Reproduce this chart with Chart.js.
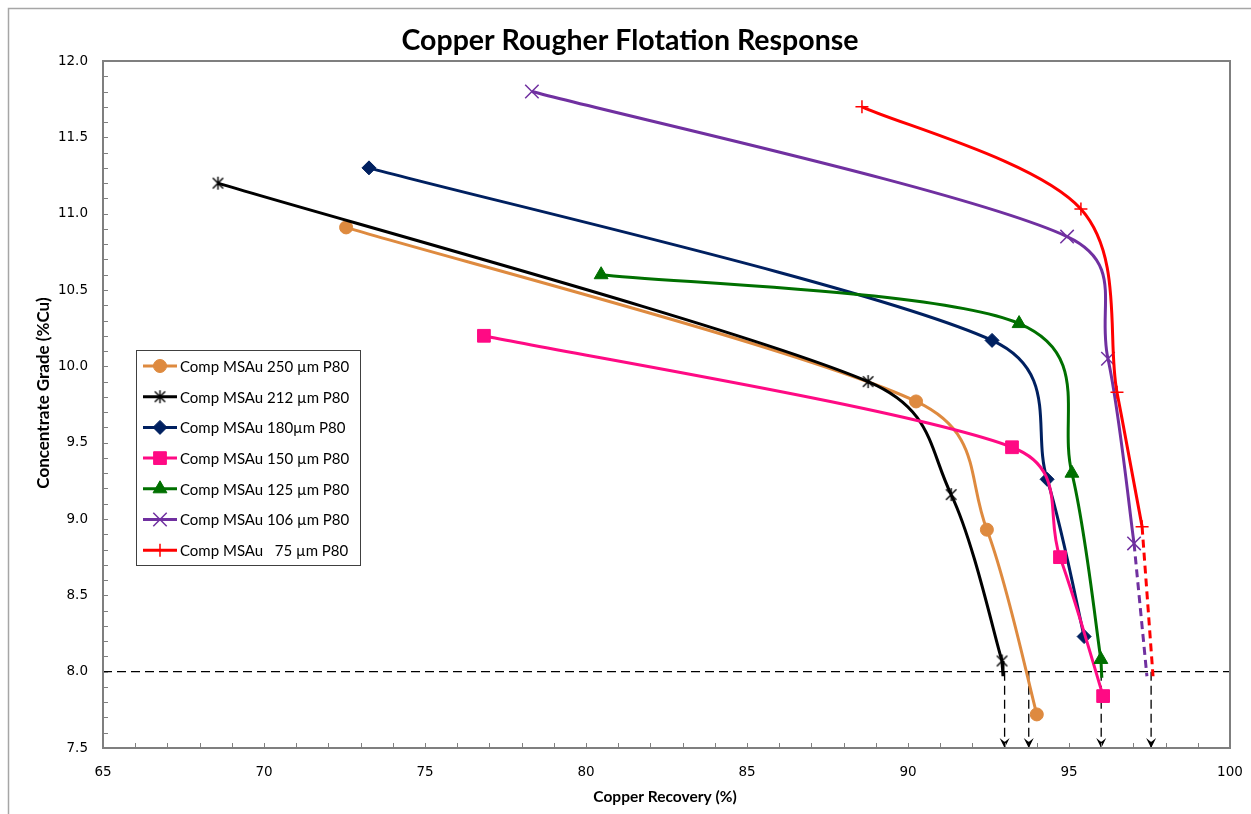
<!DOCTYPE html>
<html>
<head>
<meta charset="utf-8">
<script src="https://cdn.jsdelivr.net/npm/chart.js@4.4.1/dist/chart.umd.min.js"></script>
<style>
  html, body { margin: 0; padding: 0; background: #fff; }
  canvas { display: block; }
</style>
</head>
<body>
<canvas id="chart" width="1251" height="814"></canvas>
<script>
// copper recovery (%) and concentrate grade (%Cu)
const rec250 = [72.55, 90.25, 92.45, 94.00];
const grade250 = [10.91, 9.77, 8.93, 7.72];
const rec212 = [68.57, 88.76, 91.34, 92.92];
const grade212 = [11.20, 9.90, 9.16, 8.07];
const rec180 = [73.26, 92.61, 94.32, 95.47];
const grade180 = [11.30, 10.17, 9.26, 8.23];
const rec150 = [76.83, 93.23, 94.72, 96.06];
const grade150 = [10.20, 9.47, 8.75, 7.84];
const rec125 = [80.47, 93.45, 95.09, 95.99];
const grade125 = [10.60, 10.28, 9.30, 8.08];
const rec106 = [78.32, 94.94, 96.21, 97.02];
const grade106 = [11.80, 10.85, 10.05, 8.84];
const rec75 = [88.57, 95.37, 96.49, 97.27];
const grade75 = [11.70, 11.03, 9.83, 8.95];

// short tails down to the 8 %Cu line
const tail212X = [92.92, 92.95];
const tail212Y = [8.07, 7.97];
const tail125X = [95.99, 96.02];
const tail125Y = [8.08, 7.96];
const ext106X = [97.02, 97.42];
const ext106Y = [8.84, 7.97];
const ext75X = [97.27, 97.61];
const ext75Y = [8.95, 7.97];

// 8 %Cu target grade and the recoveries read down from it
const targetGrade = 8.0;
const arrowRecovery = [93.0, 93.75, 96.0, 97.55];

const xTicks = [65, 70, 75, 80, 85, 90, 95, 100];
const yTicks = [7.5, 8.0, 8.5, 9.0, 9.5, 10.0, 10.5, 11.0, 11.5, 12.0];

const FONT = 'Lato, "Liberation Sans", sans-serif';
const TICK_FONT = '"DejaVu Sans", Verdana, sans-serif';

// Excel style asterisk marker (X with a vertical bar)
function asteriskMarker(size, color) {
    const c = document.createElement('canvas');
    c.width = size; c.height = size;
    const g = c.getContext('2d');
    g.strokeStyle = color;
    g.lineWidth = 1.4;
    const m = size / 2, r = size / 2 - 1;
    g.beginPath();
    g.moveTo(m - r * 0.8, m - r * 0.8); g.lineTo(m + r * 0.8, m + r * 0.8);
    g.moveTo(m + r * 0.8, m - r * 0.8); g.lineTo(m - r * 0.8, m + r * 0.8);
    g.moveTo(m, m - r); g.lineTo(m, m + r);
    g.stroke();
    return c;
}

const series = [
    { label: 'Comp MSAu 250 \u00b5m P80', x: rec250, y: grade250, color: '#DE8A3F', style: 'circle', r: 6.5, bw: 1 },
    { label: 'Comp MSAu 212 \u00b5m P80', x: rec212, y: grade212, color: '#000000', style: asteriskMarker(15, '#000'), r: 7, bw: 1 },
    { label: 'Comp MSAu 180\u00b5m P80', x: rec180, y: grade180, color: '#002060', style: 'rectRot', r: 7, bw: 1 },
    { label: 'Comp MSAu 150 \u00b5m P80', x: rec150, y: grade150, color: '#FF0A84', style: 'rect', r: 9, bw: 1 },
    { label: 'Comp MSAu 125 \u00b5m P80', x: rec125, y: grade125, color: '#007000', style: 'triangle', r: 8, bw: 1 },
    { label: 'Comp MSAu 106 \u00b5m P80', x: rec106, y: grade106, color: '#7030A0', style: 'crossRot', r: 9.5, bw: 1.5 },
    { label: 'Comp MSAu   75 \u00b5m P80', x: rec75, y: grade75, color: '#FF0000', style: 'cross', r: 6.5, bw: 1.5 }
];

function toPoints(xs, ys) {
    return xs.map((v, i) => ({ x: v, y: ys[i] }));
}

function plainLine(xs, ys, color, dash, order, width) {
    return {
        data: toPoints(xs, ys),
        showLine: true,
        borderColor: color,
        borderWidth: width,
        borderDash: dash,
        pointRadius: 0,
        tension: 0,
        order: order
    };
}

const datasets = series.map((s, i) => ({
    label: s.label,
    data: toPoints(s.x, s.y),
    showLine: true,
    excelSmooth: true,
    borderColor: s.color,
    backgroundColor: s.color,
    borderWidth: 3,
    tension: 0.4,
    pointStyle: s.style,
    pointRadius: s.r,
    pointBorderWidth: s.bw,
    pointBorderColor: s.color,
    pointBackgroundColor: s.color,
    order: series.length - i
}));

datasets.push(plainLine(tail212X, tail212Y, '#000000', [], 6, 3));
datasets.push(plainLine(tail125X, tail125Y, '#007000', [], 3, 3));
datasets.push(plainLine(ext106X, ext106Y, '#7030A0', [8, 5], 2, 3));
datasets.push(plainLine(ext75X, ext75Y, '#FF0000', [8, 5], 1, 3));
datasets.push(plainLine([xTicks[0], xTicks[xTicks.length - 1]], [targetGrade, targetGrade], '#000000', [9, 5], 50, 1.2));
arrowRecovery.forEach(v => {
    datasets.push(plainLine([v, v], [targetGrade, yTicks[0]], '#000000', [9, 5], 50, 1.3));
});

// Excel-like smoothing: Catmull-Rom tangents, clamped to half the neighbouring segment
const SMOOTH_LIMIT = 0.5;
const excelSmoothPlugin = {
    id: 'excelSmooth',
    beforeDatasetsDraw(chart) {
        chart.getSortedVisibleDatasetMetas().forEach(meta => {
            const ds = chart.data.datasets[meta.index];
            if (!ds.excelSmooth) return;
            meta.dataset.updateControlPoints(chart.chartArea, meta.iScale.axis);
            const pts = meta.data;
            for (let i = 0; i < pts.length; i++) {
                const p = pts[i];
                const prev = pts[i - 1] || p;
                const next = pts[i + 1] || p;
                const dx = (next.x - prev.x) / 6;
                const dy = (next.y - prev.y) / 6;
                const len = Math.hypot(dx, dy) || 1;
                const sN = Math.min(1, SMOOTH_LIMIT * Math.hypot(next.x - p.x, next.y - p.y) / len);
                const sP = Math.min(1, SMOOTH_LIMIT * Math.hypot(p.x - prev.x, p.y - prev.y) / len);
                p.cp1x = p.x - dx * sP; p.cp1y = p.y - dy * sP;
                p.cp2x = p.x + dx * sN; p.cp2y = p.y + dy * sN;
            }
        });
    }
};

const decorPlugin = {
    id: 'decor',
    beforeDraw(chart) {
        const ctx = chart.ctx;
        ctx.save();
        ctx.fillStyle = '#fff';
        ctx.fillRect(0, 0, chart.width, chart.height);
        ctx.strokeStyle = '#a6a6a6';
        ctx.lineWidth = 1.5;
        ctx.strokeRect(8.5, 8.5, chart.width + 20, chart.height + 20);
        ctx.restore();
    },
    afterDatasetsDraw(chart) {
        const ctx = chart.ctx;
        const xs = chart.scales.x, ys = chart.scales.y;
        ctx.save();
        // arrow heads at the recovery axis
        ctx.fillStyle = '#000';
        arrowRecovery.forEach(v => {
            const px = xs.getPixelForValue(v);
            const py = ys.getPixelForValue(yTicks[0]);
            ctx.beginPath();
            ctx.moveTo(px, py);
            ctx.lineTo(px - 5, py - 10);
            ctx.lineTo(px, py - 6);
            ctx.lineTo(px + 5, py - 10);
            ctx.closePath();
            ctx.fill();
        });
        ctx.restore();
    },
    afterDraw(chart) {
        const ctx = chart.ctx;
        const a = chart.chartArea;
        const xs = chart.scales.x, ys = chart.scales.y;
        ctx.save();

        // plot frame
        ctx.strokeStyle = '#7f7f7f';
        ctx.lineWidth = 2;
        ctx.strokeRect(a.left, a.top, a.right - a.left, a.bottom - a.top);

        // inward minor ticks
        ctx.lineWidth = 1;
        ctx.beginPath();
        for (let v = xTicks[0] + 1; v < xTicks[xTicks.length - 1]; v++) {
            const px = Math.round(xs.getPixelForValue(v)) + 0.5;
            ctx.moveTo(px, a.bottom);
            ctx.lineTo(px, a.bottom - 5);
        }
        for (let k = 76; k < 120; k++) {
            const py = Math.round(ys.getPixelForValue(k / 10)) + 0.5;
            ctx.moveTo(a.left, py);
            ctx.lineTo(a.left + 5, py);
        }
        ctx.stroke();

        // titles
        ctx.fillStyle = '#000';
        ctx.textAlign = 'center';
        ctx.textBaseline = 'middle';
        ctx.font = 'bold 28.5px ' + FONT;
        ctx.fillText('Copper Rougher Flotation Response', 630, 41);
        ctx.font = 'bold 15.5px ' + FONT;
        ctx.fillText('Copper Recovery (%)', 665, 797);
        ctx.save();
        ctx.translate(44, 393);
        ctx.rotate(-Math.PI / 2);
        ctx.font = 'bold 17px ' + FONT;
        ctx.fillText('Concentrate Grade (%Cu)', 0, 0);
        ctx.restore();

        // legend box
        ctx.fillStyle = '#fff';
        ctx.fillRect(136, 350, 224, 215);
        ctx.strokeStyle = '#404040';
        ctx.lineWidth = 1;
        ctx.strokeRect(136.5, 350.5, 224, 215);
        ctx.font = '15px ' + FONT;
        ctx.textAlign = 'left';
        series.forEach((s, i) => {
            const y = 366 + i * 30.7;
            ctx.strokeStyle = s.color;
            ctx.lineWidth = 3;
            ctx.beginPath();
            ctx.moveTo(143, y);
            ctx.lineTo(177, y);
            ctx.stroke();
            ctx.fillStyle = s.color;
            ctx.lineWidth = s.bw;
            Chart.helpers.drawPoint(ctx, { pointStyle: s.style, radius: s.r, rotation: 0, borderWidth: s.bw }, 160, y);
            ctx.fillStyle = '#000';
            ctx.fillText(s.label, 180, y + 1);
        });
        ctx.restore();
    }
};

new Chart(document.getElementById('chart'), {
    type: 'scatter',
    data: { datasets: datasets },
    options: {
        responsive: false,
        animation: false,
        layout: { padding: { left: 0, top: 61, right: 21, bottom: 0 } },
        plugins: {
            legend: { display: false },
            title: { display: false },
            tooltip: { enabled: false }
        },
        scales: {
            x: {
                type: 'linear',
                min: xTicks[0],
                max: xTicks[xTicks.length - 1],
                afterBuildTicks: s => { s.ticks = xTicks.map(v => ({ value: v })); },
                ticks: { color: '#000', padding: 16, font: { family: TICK_FONT, size: 13.5 } },
                grid: { display: false, drawTicks: false },
                border: { display: false },
                afterFit: s => { s.height = 66; s.paddingLeft = 0; s.paddingRight = 0; }
            },
            y: {
                type: 'linear',
                min: yTicks[0],
                max: yTicks[yTicks.length - 1],
                afterBuildTicks: s => { s.ticks = yTicks.map(v => ({ value: v })); },
                ticks: { color: '#000', padding: 15, font: { family: TICK_FONT, size: 13.5 }, callback: v => v.toFixed(1) },
                grid: { display: false, drawTicks: false },
                border: { display: false },
                afterFit: s => { s.width = 103; s.paddingTop = 0; s.paddingBottom = 0; }
            }
        }
    },
    plugins: [excelSmoothPlugin, decorPlugin]
});
</script>
</body>
</html>
